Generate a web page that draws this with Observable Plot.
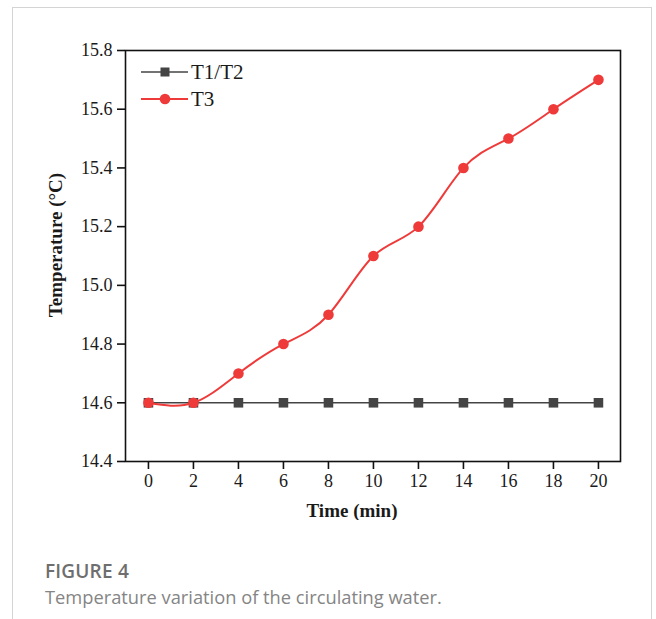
<!DOCTYPE html>
<html>
<head>
<meta charset="utf-8">
<script src="https://cdn.jsdelivr.net/npm/d3@7"></script>
<script src="https://cdn.jsdelivr.net/npm/@observablehq/plot@0.6"></script>
<style>
  html, body { margin: 0; padding: 0; background: #fff; width: 656px; height: 619px; overflow: hidden; }
  #box { position: absolute; left: 12px; top: 7px; width: 640px; height: 640px; border: 1.5px solid #d4d4d4; border-bottom: none; box-sizing: border-box; }
  #chart { position: absolute; left: 0; top: 0; }
  #legend { position: absolute; left: 0; top: 0; }
  #figlabel { position: absolute; left: 45px; top: 558px; font-family: "Open Sans", sans-serif; font-weight: 600; font-size: 19px; color: #6e6e6e; letter-spacing: 0.2px; }
  #figcap { position: absolute; left: 45px; top: 584px; font-family: "Open Sans", sans-serif; font-weight: 400; font-size: 18.3px; color: #858585; }
</style>
</head>
<body>
<div id="box"></div>
<div id="chart"></div>
<div id="figlabel">FIGURE 4</div>
<div id="figcap">Temperature variation of the circulating water.</div>
<script>
const times = [0, 2, 4, 6, 8, 10, 12, 14, 16, 18, 20];
const t12 = [14.6, 14.6, 14.6, 14.6, 14.6, 14.6, 14.6, 14.6, 14.6, 14.6, 14.6];
const t3 = [14.6, 14.6, 14.7, 14.8, 14.9, 15.1, 15.2, 15.4, 15.5, 15.6, 15.7];
const seriesNames = ["T1/T2", "T3"];
const xTicks = [0, 2, 4, 6, 8, 10, 12, 14, 16, 18, 20];
const yTicks = [14.4, 14.6, 14.8, 15.0, 15.2, 15.4, 15.6, 15.8];
const xLabel = "Time (min)";
const yLabel = "Temperature (°C)";

const grayC = "#444444";
const redC = "#ef3a3a";
const serif = "'Liberation Serif', 'Times New Roman', serif";

const d12 = times.map((t, i) => ({t, v: t12[i]}));
const d3s = times.map((t, i) => ({t, v: t3[i]}));

const chart = Plot.plot({
  width: 656,
  height: 520,
  marginLeft: 125,
  marginRight: 36,
  marginTop: 50,
  marginBottom: 59,
  x: {domain: [-1.02, 20.98], label: null},
  y: {domain: [14.4, 15.8], label: null},
  marks: [
    Plot.axisX({ticks: xTicks, tickSize: 8, tickPadding: 5, stroke: "#111", strokeWidth: 1.6, fill: "#1a1a1a", label: null}),
    Plot.axisY({ticks: yTicks, tickFormat: d3.format(".1f"), tickSize: 8, tickPadding: 5, stroke: "#111", strokeWidth: 1.6, fill: "#1a1a1a", label: null}),
    Plot.line(d12, {x: "t", y: "v", stroke: grayC, strokeWidth: 1.6}),
    Plot.dot(d12, {x: "t", y: "v", symbol: "square", r: 5.4, fill: grayC, stroke: "none"}),
    Plot.line(d3s, {x: "t", y: "v", stroke: redC, strokeWidth: 2, curve: "natural"}),
    Plot.dot(d3s, {x: "t", y: "v", r: 5.3, fill: redC, stroke: "none"}),
    Plot.frame({stroke: "#111", strokeWidth: 1.6}),
    Plot.text([xLabel], {frameAnchor: "bottom", dy: 55, dx: -21, textAnchor: "middle", fontWeight: "bold", fontSize: 19, fill: "#1a1a1a"}),
    Plot.text([yLabel], {frameAnchor: "left", dx: -70, dy: -11, rotate: -90, textAnchor: "middle", fontWeight: "bold", fontSize: 19, fill: "#1a1a1a"})
  ]
});
chart.style.fontFamily = serif;
chart.style.fontSize = "18px";
d3.select(chart).selectAll("text").style("font-family", serif);
d3.select(chart).selectAll("g[aria-label='x-axis tick label'], g[aria-label='y-axis tick label']")
  .style("font-size", "18px").attr("font-size", 18)
  .selectAll("text").style("font-size", "18px");
document.getElementById("chart").appendChild(chart);

// Legend (overlay, inside plot top-left)
const leg = d3.select("body").append("svg").attr("id", "legend").attr("width", 656).attr("height", 619)
  .style("pointer-events", "none");
const items = [
  {name: seriesNames[0], color: grayC, sym: "square"},
  {name: seriesNames[1], color: redC, sym: "circle"}
];
items.forEach((it, i) => {
  const y = 72 + i * 27;
  const g = leg.append("g");
  g.append("line").attr("x1", 141).attr("x2", 188).attr("y1", y).attr("y2", y)
    .attr("stroke", it.color).attr("stroke-width", it.sym === "square" ? 1.6 : 2);
  if (it.sym === "square") {
    g.append("rect").attr("x", 160.5).attr("y", y - 4.5).attr("width", 9).attr("height", 9).attr("fill", it.color);
  } else {
    g.append("circle").attr("cx", 165).attr("cy", y).attr("r", 5.3).attr("fill", it.color);
  }
  g.append("text").attr("x", 191).attr("y", y + 7).text(it.name)
    .style("font-family", serif).attr("font-size", 21).attr("fill", "#1a1a1a");
});
</script>
</body>
</html>
